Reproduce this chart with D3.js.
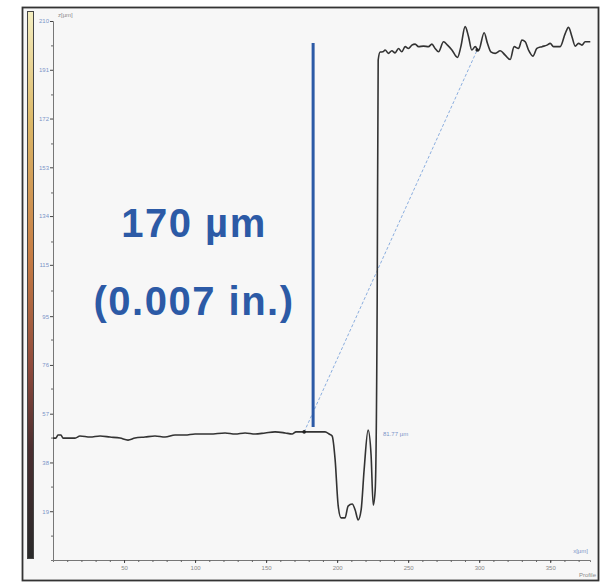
<!DOCTYPE html>
<html>
<head>
<meta charset="utf-8">
<script src="https://cdn.jsdelivr.net/npm/d3@7"></script>
<style>
  body { margin: 0; background: #ffffff; }
  svg { display: block; }
  .tiny { font-family: "Liberation Sans", Arial, sans-serif; font-size: 6px; }
</style>
</head>
<body>
<div class="chart"></div>
<script>
var svgWidth = 602;
var svgHeight = 584;

// profile (x in µm, z in µm)
var profileX = [0, 2.1, 3.5, 5.6, 7.0, 15.5, 19.0, 26.1, 33.1, 40.1, 47.2, 52.8, 57.7, 64.8, 71.8, 78.9, 85.9, 93.0, 100, 110.6,
  121.1, 128.2, 135.2, 142.3, 149.3, 156.3, 163.4, 168.3, 171.1, 176.8, 184.5, 191.5, 194.4, 196.5, 198.6, 200.7, 202.8, 205.6, 207.7, 210.6,
  212.7, 214.8, 216.9, 219.0, 221.8, 223.9, 225.4, 226.8, 228.2, 228.9, 230.3, 232.2, 233.8, 236.1, 238.5, 240.8, 243.2, 245.5, 247.9, 250.2,
  252.6, 254.9, 257.3, 260.8, 264.3, 266.7, 269.0, 271.4, 274.9, 277.7, 280.8, 284.7, 287.1, 290.1, 292.5, 294.8, 297.2, 299.5, 303.5, 305.8,
  308.2, 311.3, 314.8, 318.3, 321.8, 324.6, 327.7, 330.1, 332.4, 334.7, 337.8, 340.6, 344.2, 347.7, 350.0, 352.3, 357.0, 360.6, 362.9, 365.3,
  367.6, 369.9, 372.3, 374.6, 378.2];
var profileZ = [47.5, 47.5, 48.7, 48.7, 47.5, 47.5, 48.3, 47.9, 48.3, 47.9, 47.5, 46.7, 47.5, 47.9, 48.3, 47.9, 48.7, 48.7, 49.1, 49.1,
  49.5, 49.1, 49.5, 49.1, 49.5, 49.9, 49.5, 49.1, 49.9, 49.9, 49.9, 49.9, 49.1, 48.3, 39.0, 21.4, 16.4, 16.4, 21.0, 21.8,
  19.5, 15.6, 19.5, 35.1, 50.6, 40.9, 21.4, 27.3, 101.3, 194.8, 197.9, 198.0, 198.7, 197.4, 198.4, 197.6, 199.3, 198.0, 200.0, 199.3,
  200.6, 201.0, 200.0, 200.2, 200.0, 201.0, 199.3, 198.0, 201.9, 200.6, 198.7, 195.8, 200.0, 207.8, 203.9, 198.7, 200.0, 198.4, 205.4, 201.3,
  198.0, 197.4, 198.4, 196.7, 195.0, 200.0, 199.3, 202.6, 201.9, 198.7, 196.3, 199.3, 200.0, 200.6, 201.3, 200.0, 200.0, 205.2, 207.5, 203.9,
  200.2, 201.3, 200.6, 201.9, 201.9];

var yTicks = [19, 38, 57, 76, 95, 115, 134, 153, 172, 191, 210];
var xTicks = [50, 100, 150, 200, 250, 300, 350];

// measurement markers and step line
var markerPts = [[176.8, 49.9], [298.6, 198.7]];
var stepX = 183.1;
var stepZ = [51.8, 201.4];
var stepLabel = ["170 µm", "(0.007 in.)"];

var svg = d3.select(".chart")
  .append("svg")
  .attr("width", svgWidth)
  .attr("height", svgHeight);

svg.append("rect")
  .attr("x", 22.5).attr("y", 7.5)
  .attr("width", 576).attr("height", 573)
  .attr("fill", "#f7f7f7")
  .attr("stroke", "#333")
  .attr("stroke-width", 1.8);

// colour bar
var grad = svg.append("defs").append("linearGradient")
  .attr("id", "cbar").attr("x1", 0).attr("y1", 0).attr("x2", 0).attr("y2", 1);
[["0", "#f4eec0"], ["0.2", "#dcb868"], ["0.45", "#c67c44"], ["0.65", "#8e4a3c"], ["0.8", "#4a2e30"], ["1", "#2a2a2a"]]
  .forEach(function (s) { grad.append("stop").attr("offset", s[0]).attr("stop-color", s[1]); });

svg.append("rect")
  .attr("x", 27.5).attr("y", 11.5)
  .attr("width", 6).attr("height", 547)
  .attr("fill", "url(#cbar)")
  .attr("stroke", "#444")
  .attr("stroke-width", 1);

var xScale = d3.scaleLinear().domain([0, 378]).range([53, 590]);
var yScale = d3.scaleLinear().domain([0, 210]).range([560, 21]);

// axes
var minorY = d3.range(9.5, 210, 19.1);
svg.append("g")
  .attr("transform", "translate(53,0)")
  .call(d3.axisLeft(yScale).tickValues(minorY).tickSize(2).tickFormat(""))
  .call(g => g.select(".domain").attr("stroke", "#777"))
  .call(g => g.selectAll(".tick line").attr("stroke", "#666"));

svg.append("g")
  .attr("transform", "translate(53,0)")
  .call(d3.axisLeft(yScale).tickValues(yTicks).tickSize(3).tickPadding(1))
  .call(g => g.select(".domain").remove())
  .call(g => g.selectAll(".tick line").attr("stroke", "#444"))
  .call(g => g.selectAll(".tick text").attr("class", "tiny").attr("fill", "#7b95c8"));

svg.append("g")
  .attr("transform", "translate(0,560)")
  .call(d3.axisBottom(xScale).tickValues(d3.range(10, 378, 10)).tickSize(2).tickFormat(""))
  .call(g => g.select(".domain").attr("stroke", "#777"))
  .call(g => g.selectAll(".tick line").attr("stroke", "#666"));

svg.append("g")
  .attr("transform", "translate(0,560)")
  .call(d3.axisBottom(xScale).tickValues(xTicks).tickSize(3).tickPadding(3))
  .call(g => g.select(".domain").remove())
  .call(g => g.selectAll(".tick line").attr("stroke", "#444"))
  .call(g => g.selectAll(".tick text").attr("class", "tiny").attr("fill", "#888"));

svg.append("text").attr("class", "tiny").attr("x", 58).attr("y", 17).attr("fill", "#8a8a8a").text("z[µm]");
svg.append("text").attr("class", "tiny").attr("x", 588).attr("y", 553).attr("text-anchor", "end").attr("fill", "#7b95c8").text("x[µm]");
svg.append("text").attr("class", "tiny").attr("x", 596).attr("y", 577).attr("text-anchor", "end").attr("fill", "#8a8a8a").text("Profile");

// dashed reference line between markers
svg.append("line")
  .attr("x1", xScale(markerPts[0][0])).attr("y1", yScale(markerPts[0][1]))
  .attr("x2", xScale(markerPts[1][0])).attr("y2", yScale(markerPts[1][1]))
  .attr("stroke", "#6f9ad8")
  .attr("stroke-width", 0.8)
  .attr("stroke-dasharray", "3,2");

// profile
var line = d3.line()
  .x((d, i) => xScale(profileX[i]))
  .y(d => yScale(d))
  .curve(d3.curveMonotoneX);

svg.append("path")
  .datum(profileZ)
  .attr("d", line)
  .attr("fill", "none")
  .attr("stroke", "#333")
  .attr("stroke-width", 1.6);

svg.selectAll(".marker")
  .data(markerPts)
  .enter()
  .append("circle")
  .attr("class", "marker")
  .attr("cx", d => xScale(d[0]))
  .attr("cy", d => yScale(d[1]))
  .attr("r", 1.8)
  .attr("fill", "#222");

svg.append("text").attr("class", "tiny")
  .attr("x", 383).attr("y", 436)
  .attr("fill", "#7b95c8")
  .text("81.77 µm");

// step height
svg.append("line")
  .attr("x1", xScale(stepX)).attr("x2", xScale(stepX))
  .attr("y1", yScale(stepZ[0])).attr("y2", yScale(stepZ[1]))
  .attr("stroke", "#2c5aa6")
  .attr("stroke-width", 3);

svg.selectAll(".big")
  .data(stepLabel)
  .enter()
  .append("text")
  .attr("class", "big")
  .attr("x", 194)
  .attr("y", (d, i) => 237 + i * 78)
  .attr("text-anchor", "middle")
  .attr("font-family", "Liberation Sans, Arial, sans-serif")
  .attr("font-weight", "bold")
  .attr("font-size", 40)
  .attr("letter-spacing", 1.5)
  .attr("fill", "#2c5aa6")
  .text(d => d);
</script>
</body>
</html>
